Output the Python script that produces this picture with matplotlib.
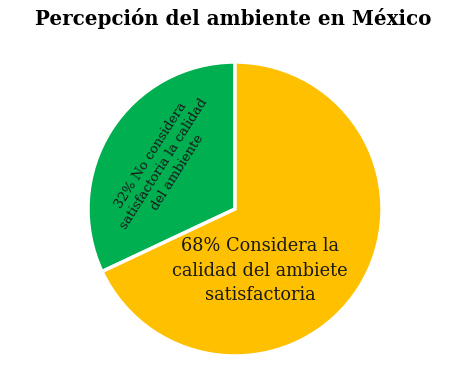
import numpy as np
import matplotlib
matplotlib.use("Agg")
import matplotlib.pyplot as plt

labels = ["32% No considera\nsatisfactoria la calidad\ndel ambiente",
          "68% Considera la\ncalidad del ambiete\nsatisfactoria"]
values = [32, 68]
colors = ["#00B050", "#FFC000"]

fig = plt.figure(figsize=(4.74, 3.79), dpi=100)
cx, cy, r = 235, 209, 147
ax = fig.add_axes([(cx - r) / 474, (379 - cy - r) / 379, 2 * r / 474, 2 * r / 379])

wedges, _ = ax.pie(values, colors=colors, startangle=90, counterclock=True,
                   wedgeprops=dict(edgecolor="white", linewidth=2.5), radius=1)
ax.set_xlim(-1, 1)
ax.set_ylim(-1, 1)
ax.set_aspect("equal")
ax.axis("off")

# green label along the slice bisector
w = wedges[0]
mid = np.deg2rad((w.theta1 + w.theta2) / 2)
ax.text(0.57 * np.cos(mid), 0.57 * np.sin(mid), labels[0], ha="center", va="center",
        rotation=(w.theta1 + w.theta2) / 2 - 90, fontsize=9.5, family="DejaVu Serif",
        color="#1a1a1a", linespacing=1.25)
ax.text(0.17, -0.42, labels[1], ha="center", va="center", fontsize=12.8,
        family="DejaVu Serif", color="#1a1a1a", linespacing=1.45)

fig.text(0.492, 0.95, "Percepción del ambiente en México", ha="center", va="center",
         fontsize=14.3, fontweight="bold", family="DejaVu Serif")

plt.savefig("out.png", dpi=100)
